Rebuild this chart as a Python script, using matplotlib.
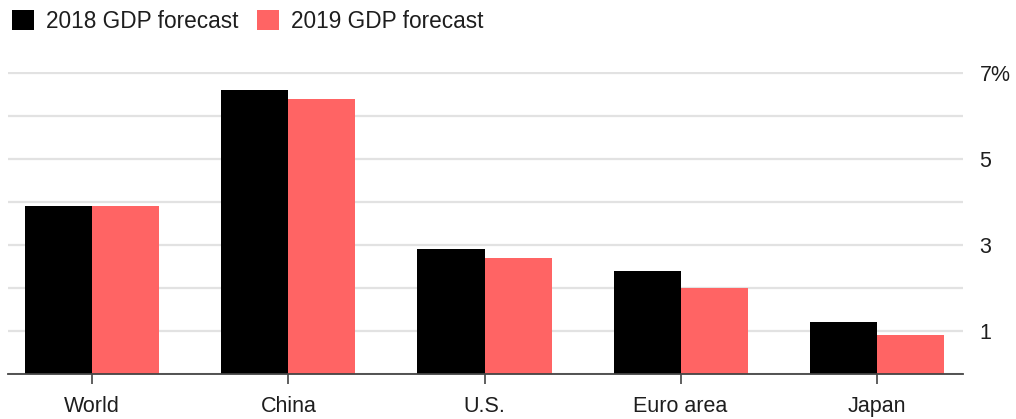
import numpy as np
import matplotlib
matplotlib.use('Agg')
import matplotlib.pyplot as plt
from matplotlib.patches import Patch

plt.rcParams['font.family'] = ['Liberation Sans', 'DejaVu Sans']

regions = ['World', 'China', 'U.S.', 'Euro area', 'Japan']
gdp_2018 = [3.9, 6.6, 2.9, 2.4, 1.2]
gdp_2019 = [3.9, 6.4, 2.7, 2.0, 0.9]
ytick_vals = [0, 1, 2, 3, 4, 5, 6, 7]
ytick_labels = ['', '1', '', '3', '', '5', '', '7%']

black = '#000000'
pink = '#ff6464'
text_col = '#1e1e1e'

fig = plt.figure(figsize=(10.16, 4.19), dpi=100)
ax = fig.add_axes([8 / 1016, 45 / 419, 955 / 1016, 302 / 419])

x = np.arange(len(regions))
w = 0.342
ax.bar(x - w / 2, gdp_2018, w, color=black, zorder=3)
ax.bar(x + w / 2, gdp_2019, w, color=pink, zorder=3)

ax.set_xlim(-0.43, 4.44)
ax.set_ylim(0, 7.02)

for s in ['top', 'left', 'right']:
    ax.spines[s].set_visible(False)
ax.spines['bottom'].set_color('#444444')
ax.spines['bottom'].set_linewidth(1.3)
ax.spines['bottom'].set_zorder(4)

ax.set_xticks(x)
ax.set_xticklabels(regions, fontsize=15.5, color=text_col)
ax.tick_params(axis='x', length=7, width=1.2, color='#444444', pad=9)

ax.yaxis.tick_right()
ax.set_yticks(ytick_vals)
ax.set_yticklabels(ytick_labels, fontsize=15.5, color=text_col)
ax.tick_params(axis='y', length=0, pad=12)
ax.grid(axis='y', color='#e2e2e2', linewidth=1.6, zorder=0)

# legend squares ~22px, text a bit wider than the tick labels
handles = [Patch(facecolor=black), Patch(facecolor=pink)]
fig.legend(handles, ['2018 GDP forecast', '2019 GDP forecast'],
           loc='upper left', bbox_to_anchor=(12 / 1016, 1 - 10 / 419),
           ncol=2, frameon=False, fontsize=16.3, handlelength=0.97,
           handleheight=0.97, handletextpad=0.55, columnspacing=0.8,
           borderpad=0, borderaxespad=0, labelcolor=text_col)

fig.savefig('out.png', dpi=100)
